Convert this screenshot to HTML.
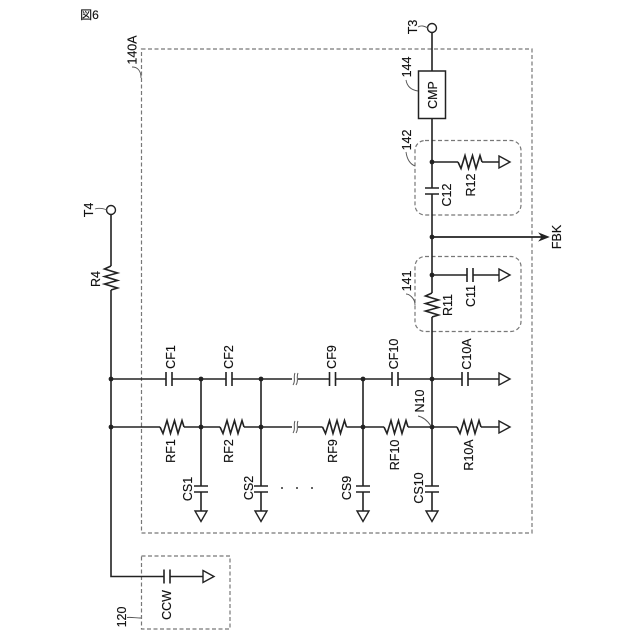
<!DOCTYPE html>
<html><head><meta charset="utf-8"><style>
html,body{margin:0;padding:0;background:#fff}
svg{display:block}
text{font-family:"Liberation Sans","Noto Sans CJK JP",sans-serif;font-size:12.5px;fill:#111;stroke:#111;stroke-width:0.15;text-anchor:middle;dominant-baseline:central}
</style></head><body>
<svg width="640" height="640" viewBox="0 0 640 640" xmlns="http://www.w3.org/2000/svg">
<defs>
<polyline id="rh" points="0,0 3,6.500 7,-6.500 10.500,6.500 14.500,-6.500 18,6.500 22,-6.500 24,0" fill="none" stroke="#222" stroke-width="1.6"/>
<polyline id="rv" points="0,0 -6.500,3 6.500,7 -6.500,10.500 6.500,14.500 -6.500,18 6.500,22 0,24" fill="none" stroke="#222" stroke-width="1.6"/>
<path id="ch" d="M-3,-7V7M3,-7V7" stroke="#222" stroke-width="1.6" fill="none"/>
<path id="cv" d="M-7,-3H7M-7,3H7" stroke="#222" stroke-width="1.6" fill="none"/>
<polygon id="tr" points="0,-6 11,0 0,6" fill="#fff" stroke="#222" stroke-width="1.4"/>
<polygon id="td" points="-6,0 6,0 0,10.500" fill="#fff" stroke="#222" stroke-width="1.4"/>
<circle id="j" r="2.400" fill="#222"/>
</defs>

<!-- dashed boxes -->
<g fill="none" stroke="#777" stroke-width="1.2" stroke-dasharray="4 2.5">
<rect x="141.500" y="49" width="390.500" height="484"/>
<rect x="141.500" y="556" width="88.500" height="73"/>
<rect x="415" y="140.500" width="106" height="74.500" rx="10"/>
<rect x="415" y="256.500" width="106" height="75" rx="10"/>
</g>

<!-- wires -->
<g fill="none" stroke="#222" stroke-width="1.600">
<path d="M111,214.500V266M111,290V576.500H164M170,576.500H203"/>
<path d="M111,379H166M172,379H226M232,379H292M298,379H329.500M335.500,379H392M398,379H462M468,379H499"/>
<path d="M111,427H160M184,427H220M244,427H292M298,427H322.500M346.500,427H384M408,427H457M481,427H499"/>
<path d="M201,379V486M201,492V511M261,379V486M261,492V511M363,379V486M363,492V511M432,317V486M432,492V511"/>
<path d="M432,32.500V71M432,118V188M432,194V293"/>
<path d="M432,162H458M482,162H499M432,275H467M473,275H499"/>
</g>
<path d="M432,237H545" stroke="#222" stroke-width="1.7"/>
<polygon points="539,233 549,237 539,241 542,237" fill="#222" stroke="#222" stroke-width="0.6"/>

<!-- breaks -->
<g fill="none" stroke="#555" stroke-width="1">
<path d="M295,373C293,377 296,381 293,385M298,373C296,377 299,381 296,385"/>
<path d="M295,421C293,425 296,429 293,433M298,421C296,425 299,429 296,433"/>
</g>

<!-- resistors -->
<use href="#rh" x="160" y="427"/><use href="#rh" x="220" y="427"/><use href="#rh" x="322.500" y="427"/>
<use href="#rh" x="384" y="427"/><use href="#rh" x="457" y="427"/><use href="#rh" x="458" y="162"/>
<use href="#rv" x="432" y="293"/><use href="#rv" x="111" y="266"/>

<!-- capacitors -->
<use href="#ch" x="169" y="379"/><use href="#ch" x="229" y="379"/><use href="#ch" x="332.500" y="379"/>
<use href="#ch" x="395" y="379"/><use href="#ch" x="465" y="379"/><use href="#ch" x="470" y="275"/>
<use href="#ch" x="167" y="576.500"/>
<use href="#cv" x="201" y="489"/><use href="#cv" x="261" y="489"/><use href="#cv" x="363" y="489"/>
<use href="#cv" x="432" y="489"/><use href="#cv" x="432" y="191"/>

<!-- grounds -->
<use href="#tr" x="499" y="379"/><use href="#tr" x="499" y="427"/><use href="#tr" x="499" y="162"/>
<use href="#tr" x="499" y="275"/><use href="#tr" x="203" y="576.500"/>
<use href="#td" x="201" y="511"/><use href="#td" x="261" y="511"/><use href="#td" x="363" y="511"/><use href="#td" x="432" y="511"/>

<!-- junctions -->
<use href="#j" x="111" y="379"/><use href="#j" x="111" y="427"/>
<use href="#j" x="201" y="379"/><use href="#j" x="201" y="427"/>
<use href="#j" x="261" y="379"/><use href="#j" x="261" y="427"/>
<use href="#j" x="363" y="379"/><use href="#j" x="363" y="427"/>
<use href="#j" x="432" y="379"/><use href="#j" x="432" y="427"/>
<use href="#j" x="432" y="162"/><use href="#j" x="432" y="237"/><use href="#j" x="432" y="275"/>

<!-- terminals -->
<circle cx="432" cy="28" r="4.500" fill="#fff" stroke="#222" stroke-width="1.400"/>
<circle cx="111" cy="210" r="4.500" fill="#fff" stroke="#222" stroke-width="1.400"/>

<!-- CMP -->
<rect x="418.500" y="71" width="27" height="47.500" fill="#fff" stroke="#222" stroke-width="1.500"/>

<!-- leaders -->
<g fill="none" stroke="#555" stroke-width="0.900">
<path d="M418,27C421,25 424,26 428,28"/>
<path d="M95,209C98,208 102,208 107,210"/>
<path d="M406,80C407,86 411,90 418,91"/>
<path d="M406,152C407,159 410,164 415,166"/>
<path d="M406,294C409,294 415,298 415,305"/>
<path d="M132,67C137,67 141,70 141,78"/>
<path d="M418,416C423,417 427,420 431,426"/>
<path d="M127,617.500C131,617 136,618 141,618"/>
</g>

<!-- dots -->
<circle cx="282" cy="488" r="1" fill="#333"/><circle cx="297" cy="488" r="1" fill="#333"/><circle cx="312" cy="488" r="1" fill="#333"/>

<!-- labels -->
<text x="89.500" y="15" style="font-size:12px">図6</text>
<g transform="translate(0.800,0)">
<text transform="translate(131.500,50) rotate(-90)">140A</text>
<text transform="translate(412,27) rotate(-90)">T3</text>
<text transform="translate(88,210) rotate(-90)">T4</text>
<text transform="translate(95,279) rotate(-90)">R4</text>
<text transform="translate(406,67) rotate(-90)">144</text>
<text transform="translate(406,140) rotate(-90)">142</text>
<text transform="translate(406,281) rotate(-90)">141</text>
<text transform="translate(432,95) rotate(-90)">CMP</text>
<text transform="translate(470,185) rotate(-90)">R12</text>
<text transform="translate(446,195) rotate(-90)">C12</text>
<text transform="translate(556,237) rotate(-90)">FBK</text>
<text transform="translate(470,296) rotate(-90)">C11</text>
<text transform="translate(447,305) rotate(-90)">R11</text>
<text transform="translate(170,357) rotate(-90)">CF1</text>
<text transform="translate(228,357) rotate(-90)">CF2</text>
<text transform="translate(331,357) rotate(-90)">CF9</text>
<text transform="translate(393,354) rotate(-90)">CF10</text>
<text transform="translate(466,354) rotate(-90)">C10A</text>
<text transform="translate(170,451) rotate(-90)">RF1</text>
<text transform="translate(228,451) rotate(-90)">RF2</text>
<text transform="translate(332,451) rotate(-90)">RF9</text>
<text transform="translate(394,455) rotate(-90)">RF10</text>
<text transform="translate(468,455) rotate(-90)">R10A</text>
<text transform="translate(187,489) rotate(-90)">CS1</text>
<text transform="translate(248,488) rotate(-90)">CS2</text>
<text transform="translate(346,488) rotate(-90)">CS9</text>
<text transform="translate(418,488) rotate(-90)">CS10</text>
<text transform="translate(419,401) rotate(-90)">N10</text>
<text transform="translate(166,605) rotate(-90)">CCW</text>
<text transform="translate(121,617) rotate(-90)">120</text>
</g>
</svg>
</body></html>
